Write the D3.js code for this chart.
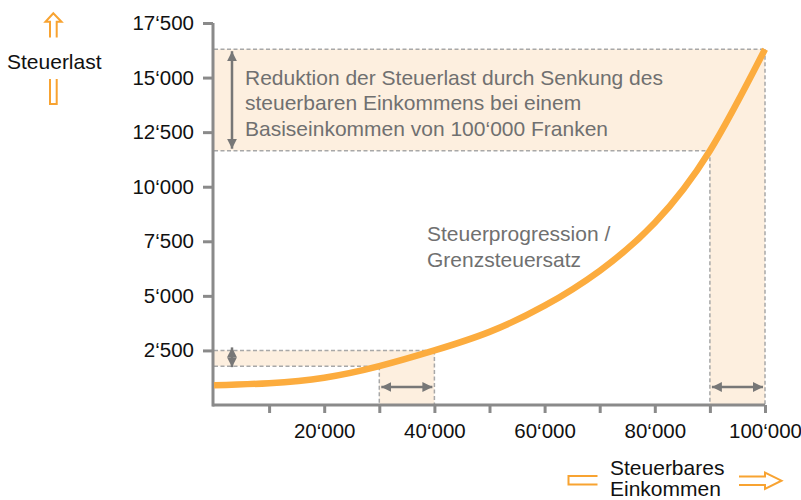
<!DOCTYPE html>
<html>
<head>
<meta charset="utf-8">
<script src="https://cdn.jsdelivr.net/npm/d3@7"></script>
<style>
  body { margin: 0; background: #fff; }
  svg { font-family: "Liberation Sans", Arial, Helvetica, sans-serif; }
  .axis path, .axis line { stroke: #8a8a8a; stroke-width: 3; }
  .axis text { fill: #111; font-size: 20.5px; }
  .dash { stroke: #a8a8a8; stroke-width: 1.5; stroke-dasharray: 4 2.5; fill: none; }
  .note { fill: #707070; font-size: 21px; }
</style>
</head>
<body>
<svg id="chart" width="801" height="500"></svg>
<script>
// income (x) and tax burden (y)
var incomes = [0, 10000, 20000, 30000, 40000, 50000, 60000, 70000, 80000, 90000, 100000];
var taxes   = [900, 1000, 1250, 1780, 2500, 3350, 4550, 6150, 8350, 11650, 16300];

var incomeTicks = [10000, 20000, 30000, 40000, 50000, 60000, 70000, 80000, 90000, 100000];
var taxTicks = [2500, 5000, 7500, 10000, 12500, 15000, 17500];

// the two examples: income lowered by 10'000
var lowIncome = [30000, 40000];
var lowTax = [1780, 2500];
var highIncome = [90000, 100000];
var highTax = [11650, 16300];

var noteLines = ["Reduktion der Steuerlast durch Senkung des", "steuerbaren Einkommens bei einem", "Basiseinkommen von 100\u2018000 Franken"];
var curveLines = ["Steuerprogression /", "Grenzsteuersatz"];

var svg = d3.select("#chart");
var x = d3.scaleLinear().domain([0, 100000]).range([214, 765]);
var y = d3.scaleLinear().domain([0, 17500]).range([405, 23]);
var fmt = function (v) { return d3.format(",")(v).replace(/,/g, "\u2018"); };

var defs = svg.append("defs");
defs.append("marker")
  .attr("id", "head")
  .attr("viewBox", "0 0 10 10")
  .attr("refX", 10).attr("refY", 5)
  .attr("markerUnits", "userSpaceOnUse")
  .attr("markerWidth", 10).attr("markerHeight", 10)
  .attr("orient", "auto-start-reverse")
  .append("path").attr("d", "M0,0 L10,5 L0,10 z").attr("fill", "#777");

var fillCol = "#fdefdf";
// shaded bands
var bands = svg.append("g");
bands.append("rect").attr("x", x(0)).attr("y", y(highTax[1]))
  .attr("width", x(highIncome[1]) - x(0)).attr("height", y(highTax[0]) - y(highTax[1])).attr("fill", fillCol);
bands.append("rect").attr("x", x(highIncome[0])).attr("y", y(highTax[1]))
  .attr("width", x(highIncome[1]) - x(highIncome[0])).attr("height", y(0) - y(highTax[1])).attr("fill", fillCol);
bands.append("rect").attr("x", x(0)).attr("y", y(lowTax[1]))
  .attr("width", x(lowIncome[1]) - x(0)).attr("height", y(lowTax[0]) - y(lowTax[1])).attr("fill", fillCol);
bands.append("rect").attr("x", x(lowIncome[0])).attr("y", y(lowTax[1]))
  .attr("width", x(lowIncome[1]) - x(lowIncome[0])).attr("height", y(0) - y(lowTax[1])).attr("fill", fillCol);

// dashed guide lines
var guides = [
  [0, highTax[1], highIncome[1], highTax[1]],
  [0, highTax[0], highIncome[0], highTax[0]],
  [highIncome[0], highTax[0], highIncome[0], 0],
  [highIncome[1], highTax[1], highIncome[1], 0],
  [0, lowTax[1], lowIncome[1], lowTax[1]],
  [0, lowTax[0], lowIncome[0], lowTax[0]],
  [lowIncome[0], lowTax[0], lowIncome[0], 0],
  [lowIncome[1], lowTax[1], lowIncome[1], 0]
];
svg.append("g").selectAll("line").data(guides).enter().append("line")
  .attr("class", "dash")
  .attr("x1", function (d) { return x(d[0]); })
  .attr("y1", function (d) { return y(d[1]); })
  .attr("x2", function (d) { return x(d[2]); })
  .attr("y2", function (d) { return y(d[3]); });

// axes
svg.append("g").attr("class", "axis")
  .attr("transform", "translate(0," + y(0) + ")")
  .call(d3.axisBottom(x).tickValues(incomeTicks).tickSizeInner(8).tickSizeOuter(0).tickPadding(10)
    .tickFormat(function (d) { return d % 20000 === 0 ? fmt(d) : ""; }))
  .call(function (g) { g.select(".domain").attr("d", "M" + (x(0) - 1.5) + ",0H" + x(100000)); });

svg.append("g").attr("class", "axis")
  .attr("transform", "translate(" + (x(0) - 1) + ",0)")
  .call(d3.axisLeft(y).tickValues(taxTicks).tickSizeInner(10).tickSizeOuter(0).tickPadding(9)
    .tickFormat(fmt))
  .call(function (g) { g.select(".domain").attr("d", "M0," + y(17500) + "V" + (y(0) + 1.5)); });

// progression curve
var line = d3.line()
  .x(function (d, i) { return x(incomes[i]); })
  .y(function (d) { return y(d); })
  .curve(d3.curveNatural);
svg.append("path").datum(taxes)
  .attr("d", line)
  .attr("fill", "none")
  .attr("stroke", "#fcac3e")
  .attr("stroke-width", 6.5)
  .attr("stroke-linecap", "butt");

// gray double arrows
var arrows = [
  [232, y(highTax[1]) + 2, 232, y(highTax[0]) - 2],
  [232, y(lowTax[1]) - 3, 232, y(lowTax[0]) + 1],
  [x(lowIncome[0]) + 2, 387, x(lowIncome[1]) - 2, 387],
  [x(highIncome[0]) + 2, 387, x(highIncome[1]) - 2, 387]
];
svg.append("g").selectAll("line").data(arrows).enter().append("line")
  .attr("x1", function (d) { return d[0]; })
  .attr("y1", function (d) { return d[1]; })
  .attr("x2", function (d) { return d[2]; })
  .attr("y2", function (d) { return d[3]; })
  .attr("stroke", "#777")
  .attr("stroke-width", 2.5)
  .attr("marker-start", "url(#head)")
  .attr("marker-end", "url(#head)");

// notes
svg.append("text").attr("class", "note")
  .selectAll("tspan").data(noteLines).enter().append("tspan")
  .attr("x", 245).attr("y", function (d, i) { return 84.5 + i * 25.5; })
  .text(function (d) { return d; });

svg.append("text").attr("class", "note")
  .selectAll("tspan").data(curveLines).enter().append("tspan")
  .attr("x", 427).attr("y", function (d, i) { return 241 + i * 26; })
  .text(function (d) { return d; });

// axis titles with split orange arrows
var orange = "#f8a331";
svg.append("text").attr("x", 7).attr("y", 68.5).attr("font-size", 21).attr("fill", "#111").text("Steuerlast");
svg.append("path").attr("d", "M50,37.5V21.7H45.5L53.3,13.3L61.5,21.7H56.7V37.5")
  .attr("fill", "none").attr("stroke", orange).attr("stroke-width", 2);
svg.append("path").attr("d", "M50,79V104H56.7V79")
  .attr("fill", "none").attr("stroke", orange).attr("stroke-width", 2);

svg.append("text").attr("font-size", 21).attr("fill", "#111")
  .selectAll("tspan").data(["Steuerbares", "Einkommen"]).enter().append("tspan")
  .attr("x", 610).attr("y", function (d, i) { return 475 + i * 21; })
  .text(function (d) { return d; });
svg.append("path").attr("d", "M597.5,476H568.5V484.5H597.5")
  .attr("fill", "none").attr("stroke", orange).attr("stroke-width", 2);
svg.append("path").attr("d", "M739,476.5H765V472.5L781.5,480.7L765,489V485H739")
  .attr("fill", "none").attr("stroke", orange).attr("stroke-width", 2);
</script>
</body>
</html>
